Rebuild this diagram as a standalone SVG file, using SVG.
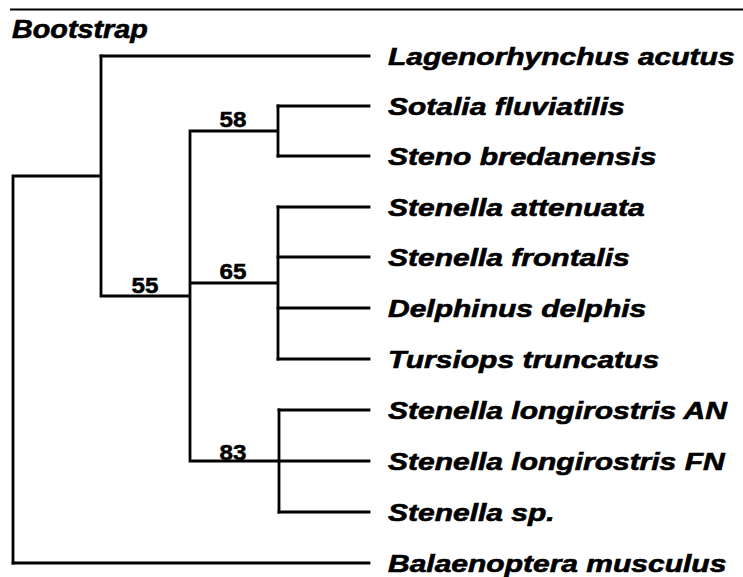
<svg xmlns="http://www.w3.org/2000/svg" width="743" height="577" viewBox="0 0 743 577">
<style>
.ln{stroke:#000;stroke-width:2.8;fill:none;stroke-linecap:square}
.lab{font-family:"Liberation Sans",Arial,sans-serif;font-weight:bold;font-style:italic;font-size:24px;fill:#000;stroke:#000;stroke-width:0.6}
.num{font-family:"Liberation Sans",Arial,sans-serif;font-weight:bold;font-size:22px;fill:#000;stroke:#000;stroke-width:0.5;text-anchor:middle}
</style>
<rect width="743" height="577" fill="#fff"/>
<line x1="10" y1="9.5" x2="743" y2="9.5" stroke="#000" stroke-width="2.2"/>
<text class="lab" transform="translate(12,38) scale(1.15,1)" style="font-size:25px">Bootstrap</text>
<g id="connectors">
<path class="ln" d="M13,176 V563 M13,176 H101 M101,56 V296 M101,296 H190 M190,131 V461 M190,131 H278 M278,106 V156 M190,283 H278 M278,207 V359 M190,461 H369 M279,410 V512"/>
<path class="ln" d="M101,56 H369 M278,106 H369 M278,156 H369 M278,207 H369 M278,257 H369 M278,308 H369 M278,359 H369 M279,410 H369 M279,512 H369 M13,563 H369"/>
</g>
<g id="n55"><text class="num" transform="translate(145,293) scale(1.1,1)">55</text></g>
<g id="n58"><text class="num" transform="translate(233,127) scale(1.1,1)">58</text></g>
<g id="n65"><text class="num" transform="translate(233,279) scale(1.1,1)">65</text></g>
<g id="n83"><text class="num" transform="translate(233,460) scale(1.1,1)">83</text></g>
<g id="leaf1"><text class="lab" transform="translate(388,64.5) scale(1.25,1)">Lagenorhynchus acutus</text></g>
<g id="leaf2"><text class="lab" transform="translate(388,114.5) scale(1.25,1)">Sotalia fluviatilis</text></g>
<g id="leaf3"><text class="lab" transform="translate(388,164.5) scale(1.25,1)">Steno bredanensis</text></g>
<g id="leaf4"><text class="lab" transform="translate(388,215.5) scale(1.25,1)">Stenella attenuata</text></g>
<g id="leaf5"><text class="lab" transform="translate(388,265.5) scale(1.25,1)">Stenella frontalis</text></g>
<g id="leaf6"><text class="lab" transform="translate(388,316.5) scale(1.25,1)">Delphinus delphis</text></g>
<g id="leaf7"><text class="lab" transform="translate(388,367.5) scale(1.25,1)">Tursiops truncatus</text></g>
<g id="leaf8"><text class="lab" transform="translate(388,418.5) scale(1.25,1)">Stenella longirostris AN</text></g>
<g id="leaf9"><text class="lab" transform="translate(388,469.5) scale(1.25,1)">Stenella longirostris FN</text></g>
<g id="leaf10"><text class="lab" transform="translate(388,520.5) scale(1.25,1)">Stenella sp.</text></g>
<g id="leaf11"><text class="lab" transform="translate(388,571.5) scale(1.25,1)">Balaenoptera musculus</text></g>
</svg>
